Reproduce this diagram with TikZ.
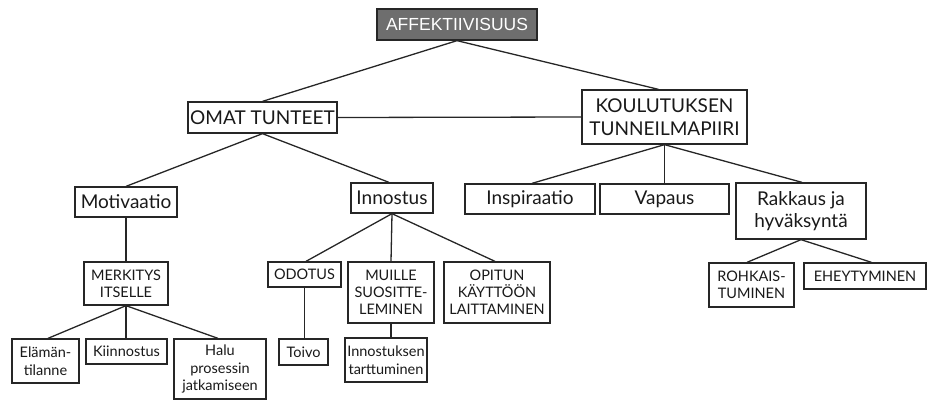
\documentclass[tikz,border=0pt]{standalone}
\usepackage{fontspec}
\setmainfont{Lato}
\newfontfamily\titlefont{Liberation Sans}
\definecolor{titlegray}{HTML}{6E6E6E}
\definecolor{inkline}{HTML}{262626}
\begin{document}
\begin{tikzpicture}[x=1pt,y=-1pt,
  box/.style={draw=inkline, line width=1.3pt, fill=white, inner sep=0pt,
    align=center, text=black!90},
  bigtxt/.style={box, font=\fontsize{19}{22.5}\selectfont},
  captxt/.style={box, font=\fontsize{14.5}{17}\selectfont},
  smalltxt/.style={box, font=\fontsize{14.5}{17.5}\selectfont},
  link/.style={draw=inkline, line width=1.3pt}]
\useasboundingbox (0,0) rectangle (927,400);

% root
\node[draw=inkline, line width=1.3pt, fill=titlegray, text=white, inner sep=0pt,
  minimum width=160pt, minimum height=31pt,
  font=\titlefont\fontsize{17.5}{20}\selectfont] (root) at (457,24.5) {AFFEKTIIVISUUS};

% second level
\node[bigtxt, minimum width=149pt, minimum height=31pt] (omat) at (262.5,117.5) {OMAT TUNTEET};
\node[bigtxt, minimum width=165pt, minimum height=54pt] (koul) at (664.5,117) {KOULUTUKSEN\\TUNNEILMAPIIRI};

% under OMAT TUNTEET
\node[bigtxt, minimum width=102pt, minimum height=30pt] (moti) at (126,202) {Motivaatio};
\node[bigtxt, minimum width=82pt, minimum height=30pt] (inno) at (392,198) {Innostus};

% under KOULUTUKSEN TUNNEILMAPIIRI
\node[bigtxt, minimum width=130pt, minimum height=30pt] (insp) at (530,199) {Inspiraatio};
\node[bigtxt, minimum width=129pt, minimum height=30pt] (vapa) at (664.5,199) {Vapaus};
\node[bigtxt, minimum width=130pt, minimum height=56pt] (rakk) at (801,211) {Rakkaus ja\\hyväksyntä};

% Motivaatio branch
\node[captxt, minimum width=84pt, minimum height=43pt] (merk) at (126,283.5) {MERKITYS\\ITSELLE};
\node[smalltxt, minimum width=67pt, minimum height=44pt] (elam) at (45.5,361) {Elämän-\\tilanne};
\node[smalltxt, minimum width=81pt, minimum height=25pt] (kiin) at (126.5,351.5) {Kiinnostus};
\node[smalltxt, minimum width=92pt, minimum height=60pt] (halu) at (220,369) {Halu\\prosessin\\jatkamiseen};

% Innostus branch
\node[captxt, minimum width=73pt, minimum height=25pt] (odot) at (304.5,274.5) {ODOTUS};
\node[captxt, minimum width=86pt, minimum height=61pt] (muil) at (391,292.5) {MUILLE\\SUOSITTE-\\LEMINEN};
\node[captxt, minimum width=106pt, minimum height=61pt] (opit) at (497,292.5) {OPITUN\\KÄYTTÖÖN\\LAITTAMINEN};
\node[smalltxt, minimum width=49pt, minimum height=26pt] (toiv) at (303.5,352) {Toivo};
\node[smalltxt, minimum width=82pt, minimum height=44pt] (tart) at (386,360) {Innostuksen\\tarttuminen};

% Rakkaus ja hyväksyntä branch
\node[captxt, minimum width=85pt, minimum height=44pt] (rohk) at (751.5,285) {ROHKAIS-\\TUMINEN};
\node[captxt, minimum width=122pt, minimum height=26pt] (ehey) at (865,276) {EHEYTYMINEN};

% connectors
\path[link] (root.south) -- (omat.north);
\path[link] (root.south) -- ([xshift=-6pt]koul.north);
\path[link] (omat.east) -- (koul.west);
\path[link] (omat.south) -- (moti.north);
\path[link] (omat.south) -- ([xshift=-3pt]inno.north);
\path[link] (koul.south) -- ([xshift=2pt]insp.north);
\path[link] (koul.south) -- (vapa.north);
\path[link] (koul.south) -- ([xshift=1pt]rakk.north);
\path[link] (moti.south) -- (merk.north);
\path[link] (merk.south) -- ([xshift=2.5pt]elam.north);
\path[link] (merk.south) -- (merk.south |- kiin.north);
\path[link] (merk.south) -- ([xshift=-2pt]halu.north);
\path[link] (inno.south) -- ([xshift=1.5pt]odot.north);
\path[link] (inno.south) -- (muil.north);
\path[link] (inno.south) -- ([xshift=-2pt]opit.north);
\path[link] (odot.south) -- (odot.south |- toiv.north);
\path[link] (muil.south) -- (muil.south |- tart.north);
\path[link] (rakk.south) -- ([xshift=-4.5pt]rohk.north);
\path[link] (rakk.south) -- ([xshift=6.5pt]ehey.north);
\end{tikzpicture}
\end{document}
